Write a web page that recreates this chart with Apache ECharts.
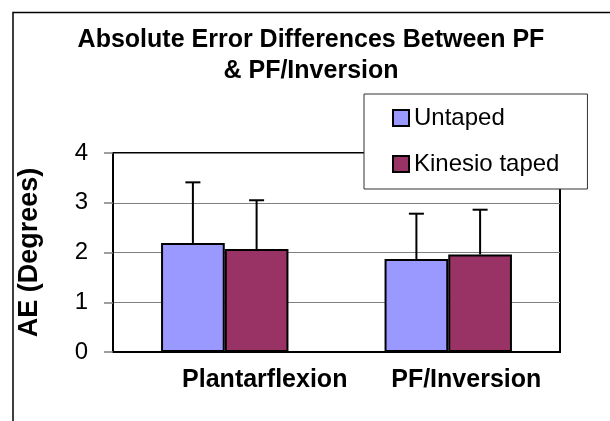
<!DOCTYPE html>
<html>
<head>
<meta charset="utf-8">
<script src="https://cdn.jsdelivr.net/npm/echarts@6/dist/echarts.min.js"></script>
<style>
  html, body { margin: 0; padding: 0; background: #fff; }
  #chart { width: 610px; height: 421px; }
</style>
</head>
<body>
<div id="chart"></div>
<script>
// data
const categories = ["Plantarflexion", "PF/Inversion"];
const seriesNames = ["Untaped", "Kinesio taped"];
const untaped = [2.19, 1.87];
const taped = [2.07, 1.96];
const untapedErr = [1.22, 0.91];
const tapedErr = [0.98, 0.90];
const yTicks = [0, 1, 2, 3, 4];

const font = "'Liberation Sans', Arial, sans-serif";
const catGap = 0.43;

const chart = echarts.init(document.getElementById("chart"));

// upward-only error bars, placed over each bar of the group
function errorSeries(means, errs, side) {
  return {
    type: "custom",
    z: 5,
    silent: true,
    data: means.map((m, i) => [i, m, errs[i]]),
    renderItem(params, api) {
      const cat = api.value(0);
      const mean = api.value(1);
      const err = api.value(2);
      const band = api.size([1, 0])[0];
      const bw = (band * (1 - catGap)) / 2;
      const base = api.coord([cat, mean]);
      const top = api.coord([cat, mean + err]);
      const x = base[0] + (side * bw) / 2;
      const style = { stroke: "#000", lineWidth: 2 };
      return {
        type: "group",
        children: [
          { type: "line", shape: { x1: x, y1: base[1], x2: x, y2: top[1] }, style },
          { type: "line", shape: { x1: x - 7.5, y1: top[1], x2: x + 7.5, y2: top[1] }, style },
        ],
      };
    },
  };
}

chart.setOption({
  animation: false,
  title: {
    text: "Absolute Error Differences Between PF\n& PF/Inversion",
    left: 311,
    top: 25,
    textAlign: "center",
    padding: 0,
    textStyle: {
      fontFamily: font,
      fontSize: 25,
      fontWeight: "bold",
      color: "#000",
      lineHeight: 31,
    },
  },
  graphic: [
    {
      type: "rect",
      z: -1,
      shape: { x: 13, y: 12.5, width: 800, height: 600 },
      style: { fill: "none", stroke: "#000", lineWidth: 1.5 },
    },
  ],
  legend: {
    orient: "vertical",
    left: 364,
    top: 94,
    padding: [12, 28, 13, 28],
    itemGap: 22,
    itemWidth: 16,
    itemHeight: 16,
    icon: "rect",
    backgroundColor: "#fff",
    borderColor: "#333",
    borderWidth: 1,
    z: 10,
    itemStyle: { borderColor: "#000", borderWidth: 2 },
    textStyle: { fontFamily: font, fontSize: 24, lineHeight: 24, color: "#000" },
    data: seriesNames,
  },
  grid: {
    left: 113,
    right: 50,
    top: 153,
    bottom: 69,
    show: true,
    borderColor: "#000",
    borderWidth: 2,
    backgroundColor: "#fff",
  },
  xAxis: {
    type: "category",
    data: categories,
    axisLine: { lineStyle: { color: "#000", width: 2 } },
    axisTick: { show: false },
    axisLabel: {
      margin: 16,
      interval: 0,
      formatter: (v, i) => (i === 0 ? "{a|" + v + "}" : "{b|" + v + "}"),
      rich: {
        a: { fontFamily: font, fontSize: 25, fontWeight: "bold", color: "#000", lineHeight: 25, padding: [0, 0, 0, 80] },
        b: { fontFamily: font, fontSize: 25, fontWeight: "bold", color: "#000", lineHeight: 25, padding: [0, 0, 0, 36] },
      },
    },
  },
  yAxis: {
    type: "value",
    min: yTicks[0],
    max: yTicks[yTicks.length - 1],
    interval: 1,
    name: "AE (Degrees)",
    nameLocation: "middle",
    nameGap: 70,
    nameTextStyle: { fontFamily: font, fontSize: 27, fontWeight: "bold", color: "#000" },
    axisLine: { show: true, lineStyle: { color: "#000", width: 2 } },
    axisTick: { show: true, length: 9, lineStyle: { color: "#808080", width: 1.5 } },
    axisLabel: { margin: 25, fontFamily: font, fontSize: 24, color: "#000" },
    splitLine: { lineStyle: { color: "#808080", width: 1 } },
  },
  series: [
    {
      name: seriesNames[0],
      type: "bar",
      data: untaped,
      barGap: "0%",
      barCategoryGap: catGap * 100 + "%",
      itemStyle: { color: "#9999FF", borderColor: "#000", borderWidth: 2 },
    },
    {
      name: seriesNames[1],
      type: "bar",
      data: taped,
      barGap: "0%",
      barCategoryGap: catGap * 100 + "%",
      itemStyle: { color: "#993366", borderColor: "#000", borderWidth: 2 },
    },
    errorSeries(untaped, untapedErr, -1),
    errorSeries(taped, tapedErr, 1),
  ],
});
</script>
</body>
</html>
